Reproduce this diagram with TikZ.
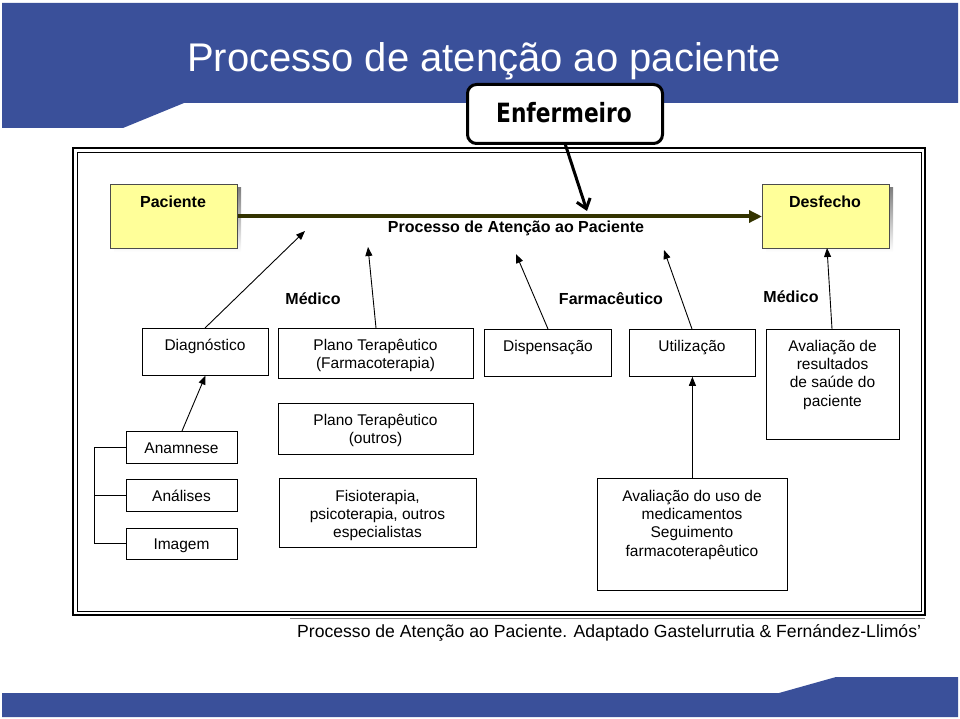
\documentclass[tikz,border=0pt]{standalone}
\usepackage{fontspec}
\setmainfont{Liberation Sans}
\newfontfamily\enffont[FakeStretch=0.82]{DejaVu Sans}
\usetikzlibrary{arrows.meta}
\definecolor{band}{RGB}{58,80,154}
\definecolor{olive}{RGB}{51,51,0}
\definecolor{pale}{RGB}{255,255,153}
\definecolor{shade}{RGB}{140,140,140}
\begin{document}
\begin{tikzpicture}[x=1pt,y=-1pt,
  bx/.style={draw=black, line width=0.8pt, inner sep=0pt, anchor=north west},
  txt/.style={font=\fontsize{15.5}{18.4}\selectfont, align=center, inner sep=0pt, anchor=base},
  role/.style={font=\bfseries\fontsize{16}{19}\selectfont, inner sep=0pt, anchor=base},
  yel/.style={draw=black!70, line width=0.6pt, fill=pale, inner sep=0pt, anchor=north west},
  thin arrow/.style={line width=0.9pt, -{Triangle[length=9pt,width=7pt]}},
]
\useasboundingbox (0,0) rectangle (960,719);
% header band
\fill[band] (2,3) -- (958,3) -- (958,103) -- (184,103) -- (123,128) -- (2,128) -- cycle;
\node[font=\fontsize{40}{44}\selectfont, text=white, anchor=base, inner sep=0pt] (title) at (484,72) {Processo de atenção ao paciente};
% footer band
\fill[band] (2,693) -- (779,693) -- (836,677) -- (958,677) -- (958,717) -- (2,717) -- cycle;
% frame
\draw[line width=1.6pt] (73,148) rectangle (925,615);
\draw[line width=0.8pt] (77,152) rectangle (921,611);
\draw[gray, line width=1.2pt] (290,618.5) -- (925,618.5);
\node[font=\fontsize{17.6}{20}\selectfont, anchor=base west, inner sep=0pt] (caption) at (297,637) {Processo de Atenção ao Paciente. Adaptado Gastelurrutia \& Fernández-Llimós'};
% yellow boxes
\fill[shade] (114,188) rectangle (241,252);
\node[yel, minimum width=127, minimum height=64] (pac) at (110,184) {};
\node[font=\bfseries\fontsize{16}{19}\selectfont, anchor=base, inner sep=0pt] (pact) at (173,207.5) {Paciente};
\fill[shade] (766,188) rectangle (893,252);
\node[yel, minimum width=127, minimum height=64] (des) at (762,184) {};
\node[font=\bfseries\fontsize{16}{19}\selectfont, anchor=base, inner sep=0pt] (dest) at (825,207.5) {Desfecho};
% main arrow
\draw[olive, line width=4pt, -{Triangle[length=13pt,width=12pt]}] (pac.east |- 0,216.5) -- (des.west |- 0,216.5);
\node[role] (proc) at (516,233) {Processo de Atenção ao Paciente};
% roles
\node[role] (med1) at (313,304) {Médico};
\node[role] (farm) at (611,304) {Farmacêutico};
\node[role] (med2) at (791,302) {Médico};
% Enfermeiro
\node[draw=black, line width=3pt, rounded corners=9pt, fill=white, minimum width=195, minimum height=59, inner sep=0pt, anchor=north west] (enf) at (466,83) {};
\node[font=\enffont\bfseries\fontsize{26.5}{30}\selectfont, anchor=base, inner sep=0pt] (enft) at (564,123) {Enfermeiro};
\coordinate (enfend) at (587,211);
\draw[line width=3pt, -{Straight Barb[length=9pt,width=14pt]}] (565,143.5) -- (enfend);
% boxes row 1
\node[bx, minimum width=126, minimum height=47] (diag) at (142,328) {};
\node[txt] (diagt) at (205,350) {Diagnóstico};
\node[bx, minimum width=195, minimum height=50] (plano) at (278,328) {};
\node[txt] (planot) at (375.5,368.4) {Plano Terapêutico\\(Farmacoterapia)};
\node[bx, minimum width=127, minimum height=47] (disp) at (484,329) {};
\node[txt] (dispt) at (548,351) {Dispensação};
\node[bx, minimum width=126, minimum height=47] (util) at (629,329) {};
\node[txt] (utilt) at (692,351) {Utilização};
\node[bx, minimum width=133, minimum height=110] (aval) at (766,329) {};
\node[txt] (avalt) at (832.5,406.2) {Avaliação de\\resultados\\de saúde do\\paciente};
% boxes lower
\node[bx, minimum width=195, minimum height=51] (plano2) at (278,403) {};
\node[txt] (plano2t) at (375.5,443.4) {Plano Terapêutico\\(outros)};
\node[bx, minimum width=111, minimum height=32] (anam) at (126,431) {};
\node[txt] (anamt) at (181.5,453) {Anamnese};
\node[bx, minimum width=111, minimum height=32] (anal) at (126,479) {};
\node[txt] (analt) at (181.5,501) {Análises};
\node[bx, minimum width=111, minimum height=31] (imag) at (126,528) {};
\node[txt] (imagt) at (181.5,549.5) {Imagem};
\node[bx, minimum width=197, minimum height=69] (fisio) at (279,478) {};
\node[txt] (fisiot) at (377.5,537.8) {Fisioterapia,\\psicoterapia, outros\\especialistas};
\node[bx, minimum width=190, minimum height=112] (uso) at (597,478) {};
\node[txt] (usot) at (692,556.2) {Avaliação do uso de\\medicamentos\\Seguimento\\farmacoterapêutico};
% bracket
\coordinate (brtop) at (94,447);
\coordinate (brmid) at (94,495);
\coordinate (brbot) at (94,543.5);
\draw[line width=0.9pt] (anam.west |- brtop) -- (brtop) -- (brbot) -- (imag.west |- brbot);
\draw[line width=0.9pt] (brmid) -- (anal.west |- brmid);
% arrows
\coordinate (h1) at (305,231);
\coordinate (h2) at (368,247);
\coordinate (h3) at (516,254);
\coordinate (h4) at (664,250);
\draw[thin arrow] (205,328) -- (h1);
\draw[thin arrow] (376,328) -- (h2);
\draw[thin arrow] (548,329) -- (h3);
\draw[thin arrow] (692,329) -- (h4);
\draw[thin arrow] (832,329) -- (827,248);
\draw[thin arrow] (182,431) -- (205.5,375.5);
\draw[thin arrow] (uso.north) -- (util.south);
\end{tikzpicture}
\end{document}
